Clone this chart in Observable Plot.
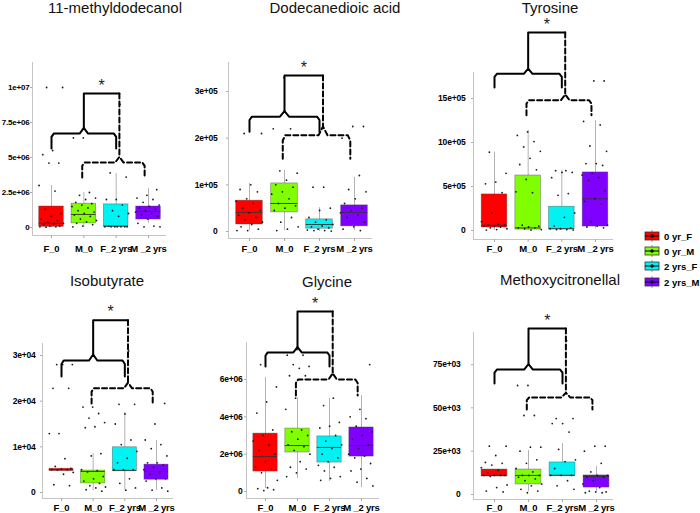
<!DOCTYPE html>
<html>
<head>
<meta charset="utf-8">
<script src="https://cdn.jsdelivr.net/npm/d3@7"></script>
<script src="https://cdn.jsdelivr.net/npm/@observablehq/plot@0.6"></script>
<style>
html, body { margin: 0; padding: 0; background: #fff; }
#root { position: relative; width: 700px; height: 513px; overflow: hidden; font-family: "Liberation Sans", Arial, sans-serif; }
#root > svg { position: absolute; left: 0; top: 0; }
#root > svg text { letter-spacing: -0.2px; }
.ttl { position: absolute; font-size: 15px; line-height: 15px; white-space: nowrap; transform: translateX(-50%); color: #111; }
.lg { position: absolute; left: 644px; height: 12px; display: flex; align-items: center; font-weight: bold; font-size: 9.5px; color: #000; white-space: nowrap; }
.lg svg { margin-right: 4px; }
</style>
</head>
<body>
<div id="root"></div>
<script>
// ---------------- data ----------------
const groups = ["F_0", "M_0", "F_2 yrs", "M _2 yrs"];
const groupColors = ["#ff0000", "#80ff00", "#00f2f2", "#8000ff"];
const legendLabels = ["0 yr_F", "0 yr_M", "2 yrs_F", "2 yrs_M"];
const metabolites = ["11-methyldodecanol", "Dodecanedioic acid", "Tyrosine", "Isobutyrate", "Glycine", "Methoxycitronellal"];
const units = [1e6, 1e5, 1e5, 1e3, 1e6, 1e3];

const yTickValues = [
  [0, 2.5e6, 5e6, 7.5e6, 1e7],
  [0, 1e5, 2e5, 3e5],
  [0, 5e5, 10e5, 15e5],
  [0, 1e4, 2e4, 3e4],
  [0, 2e6, 4e6, 6e6],
  [0, 25e3, 50e3, 75e3]
];
const yTickLabels = [
  ["0", "2.5e+06", "5e+06", "7.5e+06", "1e+07"],
  ["0", "1e+05", "2e+05", "3e+05"],
  ["0", "5e+05", "10e+05", "15e+05"],
  ["0", "1e+04", "2e+04", "3e+04"],
  ["0", "2e+06", "4e+06", "6e+06"],
  ["0", "25e+03", "50e+03", "75e+03"]
];

// box statistics per panel, per group: [lower whisker, q1, median, q3, upper whisker] (in panel units)
const boxStats = [
  [[0.0, 0.05, 0.3, 1.5, 3.0], [0.0, 0.3, 0.93, 1.7, 2.5], [0.0, 0.05, 0.1, 1.65, 3.85], [0.3, 0.57, 1.15, 1.5, 2.8]],
  [[0.02, 0.15, 0.41, 0.66, 1.03], [0.02, 0.41, 0.6, 1.03, 1.31], [0.0, 0.06, 0.15, 0.26, 0.51], [0.02, 0.11, 0.41, 0.56, 1.16]],
  [[0.0, 0.34, 0.6, 4.1, 8.9], [0.0, 0.1, 0.3, 6.25, 11.4], [0.0, 0.15, 0.2, 2.7, 6.8], [0.2, 0.45, 3.6, 6.6, 12.5]],
  [[4.6, 4.7, 5.0, 5.2, 5.3], [0.4, 2.0, 4.6, 4.8, 8.5], [0.5, 4.8, 4.8, 9.9, 17.5], [0.5, 2.8, 4.6, 6.1, 11.4]],
  [[0.16, 1.07, 1.87, 3.1, 6.1], [0.7, 2.09, 2.46, 3.37, 5.03], [0.54, 1.55, 2.36, 2.95, 4.98], [0.21, 1.87, 2.46, 3.43, 5.14]],
  [[10.4, 10.4, 11.0, 14.4, 14.4], [1.7, 5.8, 11.0, 14.4, 25.4], [11.0, 11.0, 11.0, 18.5, 29.4], [1.7, 4.0, 10.4, 11.0, 16.2]]
];

// individual observations per panel, per group (in panel units)
const pointValues = [
  [
    [10.0, 10.0, 5.5, 5.2, 4.6, 4.6, 3.0, 2.6, 1.3, 1.0, 0.8, 0.6, 0.5, 0.4, 0.3, 0.25, 0.2, 0.1, 0.1, 0.05, 0.05, 0.02],
    [6.4, 6.4, 2.5, 2.3, 2.1, 2.0, 1.8, 1.7, 1.6, 1.5, 1.4, 1.2, 1.1, 1.0, 0.9, 0.8, 0.6, 0.5, 0.4, 0.3, 0.2, 0.1, 0.05],
    [8.8, 3.9, 3.6, 2.0, 2.0, 1.6, 1.2, 1.0, 0.8, 0.1, 0.05, 0.05, 0.05, 0.05, 0.05, 0.05, 0.05],
    [2.7, 2.3, 2.1, 2.0, 1.8, 1.6, 1.5, 1.4, 1.3, 1.2, 1.1, 1.0, 0.9, 0.8, 0.6, 0.3, 0.1, 0.05, 0.05]
  ],
  [
    [2.1, 2.1, 1.0, 0.9, 0.85, 0.7, 0.65, 0.6, 0.5, 0.45, 0.4, 0.35, 0.3, 0.25, 0.2, 0.15, 0.1, 0.05, 0.02, 0.02],
    [3.3, 2.2, 2.2, 1.3, 1.25, 1.1, 1.0, 0.95, 0.85, 0.8, 0.7, 0.6, 0.55, 0.5, 0.45, 0.3, 0.2, 0.1, 0.05, 0.02],
    [0.95, 0.95, 0.5, 0.45, 0.3, 0.25, 0.2, 0.15, 0.12, 0.1, 0.08, 0.05, 0.03, 0.02, 0.02, 0.01],
    [2.25, 2.25, 2.0, 1.2, 0.9, 0.85, 0.7, 0.6, 0.5, 0.45, 0.4, 0.35, 0.3, 0.2, 0.1, 0.05, 0.02]
  ],
  [
    [8.9, 6.5, 5.5, 5.3, 4.3, 2.0, 1.0, 0.7, 0.6, 0.6, 0.5, 0.5, 0.4, 0.3, 0.2, 0.1, 0.05],
    [11.2, 10.8, 10.1, 9.5, 9.0, 8.2, 7.5, 6.9, 5.8, 4.4, 4.3, 0.6, 0.5, 0.4, 0.3, 0.3, 0.2, 0.1, 0.05],
    [6.8, 6.8, 6.6, 6.6, 6.0, 4.2, 4.0, 2.0, 1.5, 0.5, 0.3, 0.2, 0.2, 0.1, 0.1, 0.05],
    [17.0, 17.0, 12.4, 12.0, 9.6, 9.0, 7.6, 7.6, 7.4, 6.5, 6.3, 6.0, 5.7, 4.5, 3.6, 3.3, 3.0, 1.0, 0.6, 0.5, 0.4, 0.3]
  ],
  [
    [28.0, 28.0, 28.0, 22.8, 22.8, 12.9, 12.9, 7.4, 5.7, 5.3, 5.1, 5.0, 5.0, 4.9, 4.4, 4.0, 1.7, 1.5],
    [18.7, 18.7, 17.3, 16.3, 15.3, 14.4, 14.2, 8.5, 8.0, 5.0, 4.8, 4.5, 3.5, 3.0, 2.5, 2.0, 1.5, 1.2, 1.0, 0.6, 0.3],
    [31.0, 19.3, 19.3, 17.2, 15.0, 11.5, 10.5, 9.0, 7.5, 6.5, 5.0, 5.0, 5.0, 3.0, 2.0, 1.0, 0.5],
    [19.5, 15.0, 11.5, 10.5, 9.6, 8.0, 6.5, 6.5, 6.0, 5.5, 5.0, 4.5, 4.0, 3.0, 3.0, 2.5, 1.0, 0.5, 0.3]
  ],
  [
    [6.8, 5.6, 4.8, 4.2, 3.3, 3.0, 2.7, 2.5, 2.2, 2.0, 1.6, 1.3, 1.2, 1.0, 0.6, 0.2, 0.15, 0.1, 0.05],
    [7.6, 7.3, 7.3, 6.8, 6.7, 6.6, 6.2, 6.2, 5.0, 4.4, 3.3, 3.2, 3.0, 2.8, 2.5, 2.4, 2.2, 2.0, 1.6, 1.3, 1.2, 1.0, 0.8],
    [5.0, 4.6, 3.7, 3.5, 3.4, 3.0, 2.7, 2.5, 2.3, 2.0, 1.8, 1.6, 1.4, 1.3, 1.1, 0.8, 0.7, 0.6],
    [6.8, 4.4, 4.0, 3.9, 3.5, 3.2, 3.0, 2.8, 2.5, 2.3, 2.0, 1.9, 1.8, 1.5, 1.2, 1.1, 0.7, 0.5, 0.3]
  ],
  [
    [27.9, 27.9, 22.5, 18.5, 18.0, 17.0, 15.5, 14.0, 12.5, 11.0, 11.0, 11.0, 11.0, 10.5, 5.5, 4.0, 2.0, 1.5],
    [62.9, 62.9, 45.6, 45.6, 27.3, 27.3, 25.0, 20.0, 18.0, 15.0, 13.0, 11.0, 11.0, 11.0, 10.0, 9.0, 8.0, 6.0, 5.0, 3.0, 2.0, 1.0],
    [88.8, 43.8, 43.8, 40.9, 40.9, 36.0, 26.0, 20.0, 19.0, 15.0, 11.0, 11.0, 11.0, 8.0, 5.0, 3.0],
    [27.9, 27.9, 25.0, 18.0, 13.0, 11.0, 11.0, 10.0, 10.0, 8.0, 6.0, 4.0, 2.0, 1.5, 1.5, 1.0, 1.0]
  ]
];

// significance brackets per panel: [solid level, solid end, top bar, dashed level, dashed end] (panel units)
const brackets = [
  [6.71, 5.64, 9.57, 4.64, 3.57],
  [2.46, 2.14, 3.34, 2.06, 1.56],
  [17.8, 16.25, 22.5, 14.8, 13.1],
  [28.9, 25.4, 37.7, 22.8, 19.5],
  [7.45, 6.7, 9.64, 6.0, 5.14],
  [72.1, 64.0, 95.8, 56.0, 49.0]
];
// bracket anchor positions along the group axis: [left end, centre, right end]
const bracketSolidX = [1, 2, 3];
const bracketDashedX = [1.95, 3.1, 3.88];

// ---------------- layout (pixels) ----------------
const frames = [
  {axisX: 32,  c1: 51,  c4: 148, rightX: 166, top: 62,  bottom: 235, zero: 227, pxPerUnit: 14,    pad: 1,  yFont: 8,   xpad: 6.5, titleX: 115, titleY: 0},
  {axisX: 228, c1: 249, c4: 354, rightX: 372, top: 62,  bottom: 238, zero: 231, pxPerUnit: 46.67, pad: 9,  yFont: 8.5, xpad: 3.5, titleX: 335, titleY: 0},
  {axisX: 473, c1: 494, c4: 595, rightX: 613, top: 72,  bottom: 239, zero: 230, pxPerUnit: 8.8,   pad: 6,  yFont: 8.5, xpad: 2.5, titleX: 550, titleY: 0},
  {axisX: 42,  c1: 61,  c4: 156, rightX: 173, top: 343, bottom: 498, zero: 492, pxPerUnit: 4.567, pad: 5,  yFont: 8.5, xpad: 2.5, titleX: 107, titleY: 273},
  {axisX: 246, c1: 265, c4: 361, rightX: 379, top: 342, bottom: 498, zero: 491, pxPerUnit: 18.67, pad: 2,  yFont: 8.5, xpad: 2.5, titleX: 327, titleY: 274},
  {axisX: 473, c1: 494, c4: 596, rightX: 613, top: 332, bottom: 499, zero: 494, pxPerUnit: 1.733, pad: 11, yFont: 8.5, xpad: 1.5, titleX: 560, titleY: 272}
];

const W = 700, H = 513;
const root = document.getElementById("root");
const HALF = 0.38;

function bracketShape(xs, level, end, u) {
  const d = level - end;
  const cusp = 0.38 * d;
  const [x1, xm, x2] = xs;
  return [
    [x1, end], [x1, level - 0.22 * d], [x1 + 0.07, level],
    [xm - 0.13, level], [xm, level + cusp], [xm + 0.13, level],
    [x2 - 0.07, level], [x2, level - 0.22 * d], [x2, end]
  ].map(([x, y]) => ({x, y: y * u}));
}

metabolites.forEach((name, p) => {
  const f = frames[p];
  const u = units[p];
  const dx = (f.c4 - f.c1) / 3;
  const xDomain = [1 - (f.c1 - f.axisX) / dx, 4 + (f.rightX - f.c4) / dx];
  const yDomain = [(f.zero - f.bottom) / f.pxPerUnit * u, (f.zero - f.top) / f.pxPerUnit * u];

  const boxes = boxStats[p].map((s, g) => ({
    i: g + 1, lo: s[0] * u, q1: s[1] * u, med: s[2] * u, q3: s[3] * u, hi: s[4] * u, color: groupColors[g]
  }));
  const pts = [];
  pointValues[p].forEach((vals, g) => {
    vals.forEach((v, k) => {
      const jit = (((k * 0.618034 + 0.31 + g * 0.17) % 1) - 0.5) * 0.8;
      pts.push({x: g + 1 + jit, y: v * u});
    });
  });

  const [sl, se, tb, dl, de] = brackets[p];
  const solid = bracketShape(bracketSolidX, sl, se, u);
  const dashed = bracketShape(bracketDashedX, dl, de, u);
  const solidCusp = solid[4];
  const dashedCusp = dashed[4];
  const stem = [{x: solidCusp.x, y: solidCusp.y}, {x: solidCusp.x, y: tb * u}, {x: dashedCusp.x, y: tb * u}];
  const dstem = [{x: dashedCusp.x, y: tb * u}, {x: dashedCusp.x, y: dashedCusp.y}];
  const star = [{x: (solidCusp.x + dashedCusp.x) / 2, y: tb * u}];

  const tickMap = new Map(yTickValues[p].map((t, k) => [t, yTickLabels[p][k]]));

  const svg = Plot.plot({
    width: W, height: H,
    marginLeft: f.axisX, marginRight: W - f.rightX, marginTop: f.top, marginBottom: H - f.bottom,
    x: {domain: xDomain, label: null},
    y: {domain: yDomain, label: null},
    color: {type: "identity"},
    style: "background: transparent; overflow: visible; font-family: 'Liberation Sans', Arial, sans-serif; font-weight: bold;",
    marks: [
      Plot.ruleX([xDomain[0]], {stroke: "#c4c4c4", strokeWidth: 1}),
      Plot.ruleY([yDomain[0]], {stroke: "#c4c4c4", strokeWidth: 1}),
      Plot.axisY({ticks: yTickValues[p], tickFormat: d => tickMap.get(d), tickSize: 2, tickPadding: f.pad, stroke: "#aaa", fontSize: f.yFont, fontWeight: "bold", fill: "#000", label: null}),
      Plot.axisX({ticks: [1, 2, 3, 4], tickFormat: d => groups[d - 1], tickSize: 3, tickPadding: f.xpad, stroke: "#aaa", fontSize: 9.5, fontWeight: "bold", fill: "#000", label: null}),
      Plot.ruleX(boxes, {x: "i", y1: "lo", y2: "hi", stroke: "#b3b3b3", strokeWidth: 1}),
      Plot.rect(boxes, {x1: d => d.i - HALF, x2: d => d.i + HALF, y1: "q1", y2: "q3", fill: "color", stroke: "#444", strokeOpacity: 0.55, strokeWidth: 0.7}),
      Plot.ruleY(boxes, {y: "med", x1: d => d.i - HALF, x2: d => d.i + HALF, stroke: "#333", strokeWidth: 0.9}),
      Plot.dot(pts, {x: "x", y: "y", r: 0.9, fill: "#1a1a1a", stroke: null}),
      Plot.line(solid, {x: "x", y: "y", stroke: "#000", strokeWidth: 2, strokeLinejoin: "round"}),
      Plot.line(stem, {x: "x", y: "y", stroke: "#000", strokeWidth: 2, strokeLinejoin: "round"}),
      Plot.line(dstem, {x: "x", y: "y", stroke: "#000", strokeWidth: 2, strokeDasharray: "5,3"}),
      Plot.line(dashed, {x: "x", y: "y", stroke: "#000", strokeWidth: 2, strokeDasharray: "5,3", strokeLinejoin: "round"}),
      Plot.text(star, {x: "x", y: "y", text: () => "*", dy: -8, fontSize: 16, fontWeight: "normal", fill: "#222"})
    ]
  });
  root.appendChild(svg);

  const t = document.createElement("div");
  t.className = "ttl";
  t.textContent = name;
  t.style.left = f.titleX + "px";
  t.style.top = f.titleY + "px";
  root.appendChild(t);
});

// legend
const legendTops = [236, 251, 266, 282];
legendLabels.forEach((lab, i) => {
  const row = document.createElement("div");
  row.className = "lg";
  row.style.top = (legendTops[i] - 6) + "px";
  row.innerHTML =
    `<svg width="16" height="12" viewBox="0 0 16 12">
       <line x1="8" y1="0" x2="8" y2="12" stroke="#999" stroke-width="1"/>
       <rect x="1" y="2" width="14" height="8" fill="${groupColors[i]}" stroke="#333" stroke-width="0.8"/>
       <line x1="1" y1="6" x2="15" y2="6" stroke="#000" stroke-width="1"/>
       <circle cx="8" cy="6" r="1.7" fill="#000"/>
     </svg><span>${lab}</span>`;
  root.appendChild(row);
});
</script>
</body>
</html>
